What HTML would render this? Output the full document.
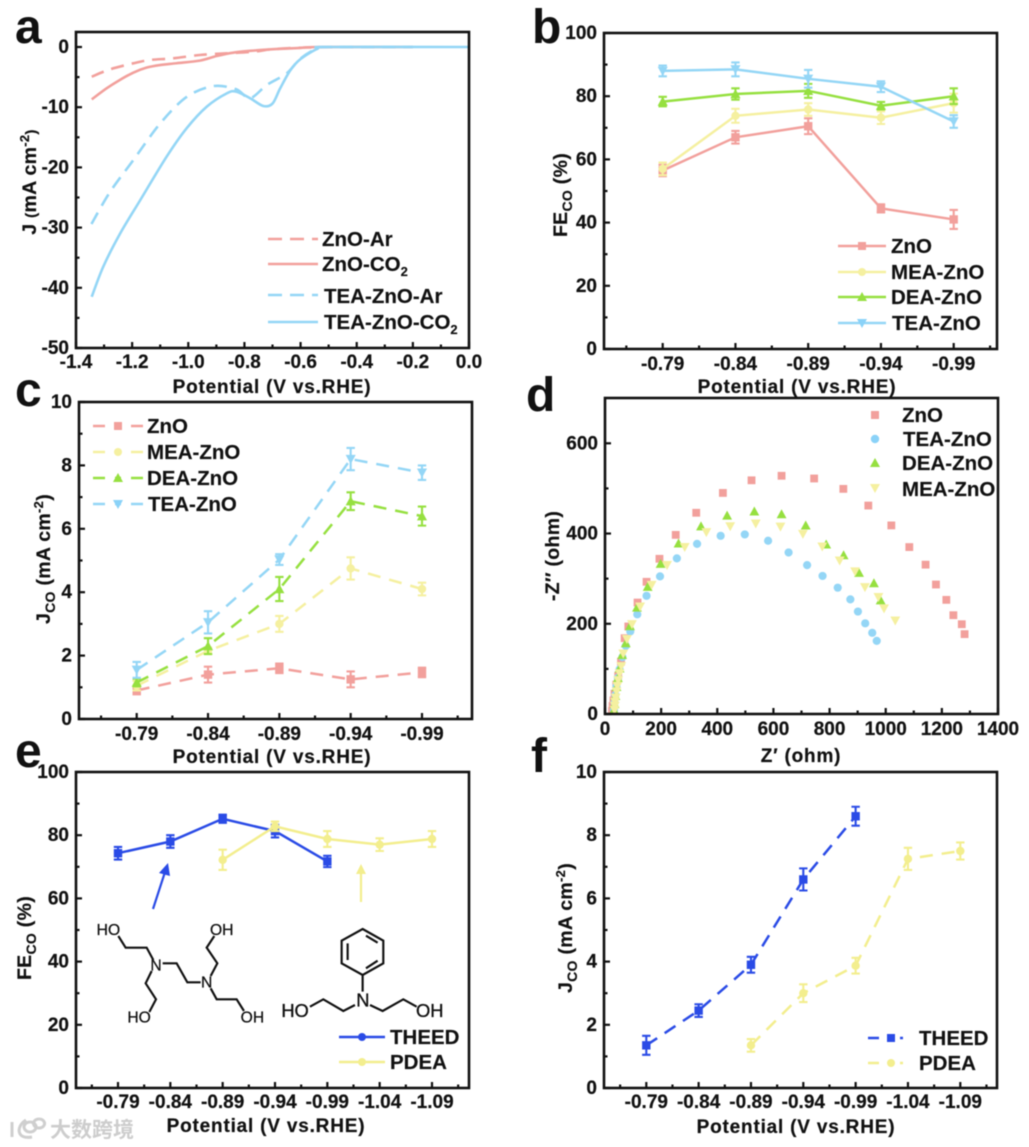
<!DOCTYPE html>
<html lang="en">
<head>
<meta charset="utf-8">
<title>ZnO electrocatalysis figure panels a to f</title>
<style>
html,body{margin:0;padding:0;background:#fff;}
body{width:1029px;height:1147px;overflow:hidden;}
svg{display:block;filter:blur(0.45px);}
text{font-family:"Liberation Sans","Noto Sans CJK SC",sans-serif;fill:#111;}
.letter{font-size:48px;font-weight:bold;}
.title{font-size:19px;font-weight:bold;letter-spacing:.8px;stroke:#111;stroke-width:.2px;}
.ytitle{font-size:19.5px;font-weight:bold;letter-spacing:.3px;stroke:#111;stroke-width:.2px;}
.legend{font-size:20.5px;font-weight:bold;stroke:#111;stroke-width:.15px;}
.tick{font-size:19px;font-weight:bold;stroke:#111;stroke-width:.2px;}
.mol{stroke:#111;fill:none;stroke-width:6.5;}
.moltext{font-size:47px;stroke:#111;stroke-width:.8px;}
.moltext2{font-size:55px;stroke:#111;stroke-width:1px;}
</style>
</head>
<body>
<svg id="figure" xmlns="http://www.w3.org/2000/svg" width="1029" height="1147" viewBox="0 0 1029 1147">
<rect width="1029" height="1147" fill="#fff"/>

<g id="plot-a"></g>
<g id="plot-b"></g>
<g id="plot-c"></g>
<g id="plot-d"></g>
<g id="plot-e"></g>
<g id="plot-f"></g>

<!-- panel letters -->
<text class="letter" x="15" y="43">a</text>
<text class="letter" x="532" y="43">b</text>
<text class="letter" x="15" y="406">c</text>
<text class="letter" x="526" y="411">d</text>
<text class="letter" x="15" y="767">e</text>
<text class="letter" x="531" y="772">f</text>

<!-- x axis titles -->
<text class="title" x="272" y="393" text-anchor="middle">Potential (V vs.RHE)</text>
<text class="title" x="797" y="393" text-anchor="middle">Potential (V vs.RHE)</text>
<text class="title" x="272" y="763" text-anchor="middle">Potential (V vs.RHE)</text>
<text class="title" x="801" y="762" text-anchor="middle">Z′ (ohm)</text>
<text class="title" x="266" y="1132" text-anchor="middle">Potential (V vs.RHE)</text>
<text class="title" x="796" y="1133" text-anchor="middle">Potential (V vs.RHE)</text>

<!-- y axis titles -->
<text class="ytitle" text-anchor="middle" transform="translate(36,182) rotate(-90)">J <tspan font-size="15">(</tspan>mA cm<tspan font-size="13" dy="-7">-2</tspan><tspan font-size="15" dy="7">)</tspan></text>
<text class="ytitle" text-anchor="middle" transform="translate(567,195) rotate(-90)">FE<tspan font-size="14" dy="5">CO</tspan><tspan dy="-5"> (%)</tspan></text>
<text class="ytitle" text-anchor="middle" transform="translate(50,559) rotate(-90)">J<tspan font-size="14" dy="5">CO</tspan><tspan dy="-5"> (mA cm</tspan><tspan font-size="13" dy="-7">-2</tspan><tspan dy="7">)</tspan></text>
<text class="ytitle" text-anchor="middle" transform="translate(559,556) rotate(-90)">-Z′′ (ohm)</text>
<text class="ytitle" text-anchor="middle" transform="translate(31,938) rotate(-90)">FE<tspan font-size="14" dy="5">CO</tspan><tspan dy="-5"> (%)</tspan></text>
<text class="ytitle" text-anchor="middle" transform="translate(572,928) rotate(-90)">J<tspan font-size="14" dy="5">CO</tspan><tspan dy="-5"> (mA cm</tspan><tspan font-size="13" dy="-7">-2</tspan><tspan dy="7">)</tspan></text>

<!-- legend a -->
<g>
<line x1="268" x2="318" y1="239" y2="239" stroke="#F2A09C" stroke-width="2.4" stroke-dasharray="14 8"/>
<text class="legend" x="322" y="246">ZnO-Ar</text>
<line x1="268" x2="318" y1="264" y2="264" stroke="#F2A09C" stroke-width="2.4"/>
<text class="legend" x="322" y="271">ZnO-CO<tspan font-size="13" dy="5">2</tspan></text>
<line x1="268" x2="318" y1="295" y2="295" stroke="#94D6F6" stroke-width="2.4" stroke-dasharray="14 8"/>
<text class="legend" x="324" y="303">TEA-ZnO-Ar</text>
<line x1="268" x2="318" y1="322" y2="322" stroke="#94D6F6" stroke-width="2.4"/>
<text class="legend" x="324" y="329">TEA-ZnO-CO<tspan font-size="13" dy="5">2</tspan></text>
</g>

<!-- legend b -->
<g>
<line x1="838" x2="886" y1="246" y2="246" stroke="#F2A09C" stroke-width="2.4"/>
<rect x="858" y="242" width="8" height="8" fill="#F2A09C"/>
<text class="legend" x="891" y="253">ZnO</text>
<line x1="838" x2="886" y1="272" y2="272" stroke="#F5F0A0" stroke-width="2.4"/>
<circle cx="862" cy="272" r="4" fill="#F5F0A0"/>
<text class="legend" x="891" y="279">MEA-ZnO</text>
<line x1="838" x2="886" y1="297" y2="297" stroke="#96E040" stroke-width="2.4"/>
<polygon points="862,292 867,301 857,301" fill="#96E040"/>
<text class="legend" x="891" y="304">DEA-ZnO</text>
<line x1="838" x2="886" y1="323" y2="323" stroke="#94D6F6" stroke-width="2.4"/>
<polygon points="862,328 867,319 857,319" fill="#8AD2F8"/>
<text class="legend" x="892" y="330">TEA-ZnO</text>
</g>

<!-- legend c -->
<g>
<line x1="93" x2="143" y1="426" y2="426" stroke="#F2A09C" stroke-width="2.4" stroke-dasharray="12 10 6 10 12"/>
<rect x="114" y="422" width="8" height="8" fill="#F2A09C"/>
<text class="legend" x="147" y="433">ZnO</text>
<line x1="93" x2="143" y1="452" y2="452" stroke="#F5F0A0" stroke-width="2.4" stroke-dasharray="12 10 6 10 12"/>
<circle cx="118" cy="452" r="4" fill="#F5F0A0"/>
<text class="legend" x="147" y="459">MEA-ZnO</text>
<line x1="93" x2="143" y1="478" y2="478" stroke="#96E040" stroke-width="2.4" stroke-dasharray="12 10 6 10 12"/>
<polygon points="118,473 123,482 113,482" fill="#96E040"/>
<text class="legend" x="147" y="485">DEA-ZnO</text>
<line x1="93" x2="143" y1="504" y2="504" stroke="#94D6F6" stroke-width="2.4" stroke-dasharray="12 10 6 10 12"/>
<polygon points="118,509 123,500 113,500" fill="#8AD2F8"/>
<text class="legend" x="148" y="511">TEA-ZnO</text>
</g>

<!-- legend d -->
<g>
<rect x="871" y="411" width="8" height="8" fill="#F2A09C"/>
<text class="legend" x="902" y="422">ZnO</text>
<circle cx="875" cy="439" r="4.2" fill="#8AD2F8"/>
<text class="legend" x="903" y="446">TEA-ZnO</text>
<polygon points="875,458 880,467 870,467" fill="#96E040"/>
<text class="legend" x="902" y="470">DEA-ZnO</text>
<polygon points="875,493 880,484 870,484" fill="#F5F0A0"/>
<text class="legend" x="902" y="496">MEA-ZnO</text>
</g>

<!-- legend e -->
<g>
<line x1="339" x2="385" y1="1037" y2="1037" stroke="#2A4BE6" stroke-width="2.4"/>
<circle cx="362" cy="1037" r="4" fill="#2A4BE6"/>
<text class="legend" x="390" y="1044">THEED</text>
<line x1="339" x2="385" y1="1062" y2="1062" stroke="#F3EE8E" stroke-width="2.4"/>
<circle cx="362" cy="1062" r="4" fill="#F3EE8E"/>
<text class="legend" x="390" y="1069">PDEA</text>
</g>

<!-- legend f -->
<g>
<line x1="868" x2="914" y1="1038" y2="1038" stroke="#2A4BE6" stroke-width="2.4" stroke-dasharray="11 9 4 8 3"/>
<rect x="887" y="1034" width="8" height="8" fill="#2A4BE6"/>
<text class="legend" x="919" y="1045">THEED</text>
<line x1="868" x2="914" y1="1063" y2="1063" stroke="#F3EE8E" stroke-width="2.4" stroke-dasharray="11 9 4 8 3"/>
<circle cx="891" cy="1063" r="4" fill="#F3EE8E"/>
<text class="legend" x="919" y="1070">PDEA</text>
</g>

<!-- arrows in panel e -->
<g>
<line x1="153" y1="909" x2="165" y2="872" stroke="#2A4BE6" stroke-width="2.2"/>
<polygon points="168,863 170,876 159,873" fill="#2A4BE6"/>
</g>
<g>
<line x1="361" y1="902" x2="361" y2="872" stroke="#F3EE8E" stroke-width="2.2"/>
<polygon points="361,864 366,874 356,874" fill="#F3EE8E"/>
</g>

<!-- molecules -->
<g transform="translate(80,900) scale(0.3333)">
<path class="mol" d="M115 108 L137 143 L200 143 L220 180 M248 190 L290 190 L322 247 L362 247 M392 228 L412 190 L380 143 L403 108 M392 265 L410 298 L470 298 L492 333 M215 213 L197 250 L228 298 L208 336"/>
<text class="moltext" x="50" y="105">HO</text>
<text class="moltext" x="390" y="105">OH</text>
<text class="moltext" x="211" y="211">N</text>
<text class="moltext" x="363" y="263">N</text>
<text class="moltext" x="142" y="368">HO</text>
<text class="moltext" x="482" y="368">OH</text>
</g>
<g transform="translate(80,900) scale(0.3333)">
<path class="mol" d="M848 87 L910 122 L910 190 L848 225 L785 190 L785 122 Z M803 130 L803 180 M858 107 L893 128 M893 182 L858 205 M848 225 L848 275 M825 315 L790 333 L730 298 L690 320 M870 315 L908 333 L970 298 L1010 320"/>
<text class="moltext2" x="604" y="351">HO</text>
<text class="moltext2" x="829" y="319">N</text>
<text class="moltext2" x="1008" y="351">OH</text>
</g>

<!-- watermark -->
<g>
<path d="M12 1122 L12 1137 M26 1120 C16 1126 16 1140 32 1137 M30 1122 a6 5 0 1 0 0.1 0 M39 1119 a5.5 4.5 0 1 0 0.1 0" fill="none" stroke="#cfcfcf" stroke-width="3"/>
<text x="50" y="1137" font-size="21" style="fill:#cdcdcd;font-weight:bold;">大数跨境</text>
</g>
</svg>

<script>
/* ---------- Panel a data: potential (V) and current density (mA cm-2) ---------- */
const aXTicks = [-1.4, -1.2, -1.0, -0.8, -0.6, -0.4, -0.2, 0.0];
const aYTicks = [0, -10, -20, -30, -40, -50];
const aZnoArV = [-1.344, -1.279, -1.196, -1.137, -1.054, -0.959, -0.864, -0.768, -0.69, -0.54, -0.2];
const aZnoArJ = [-4.93, -3.71, -2.71, -2.16, -1.88, -1.33, -1.05, -0.78, -0.33, -0.05, 0];
const aZnoCo2V = [-1.344, -1.291, -1.244, -1.196, -1.149, -1.101, -1.042, -0.959, -0.899, -0.84, -0.768, -0.69, -0.6, -0.54, -0.2];
const aZnoCo2J = [-8.7, -6.87, -5.48, -4.26, -3.43, -3, -2.7, -2.26, -1.5, -0.94, -0.6, -0.35, -0.15, 0, 0];
const aTeaArV = [-1.345, -1.279, -1.196, -1.1, -1.006, -0.912, -0.83, -0.78, -0.72, -0.65, -0.6, -0.54, -0.5, -0.2];
const aTeaArJ = [-29.4, -24.1, -18.8, -12.7, -8.3, -6.5, -7, -8.5, -6.3, -4.4, -1.9, -0.2, 0, 0];
const aTeaCo2V = [-1.344, -1.303, -1.243, -1.172, -1.077, -1.006, -0.934, -0.863, -0.83, -0.78, -0.733, -0.7, -0.673, -0.637, -0.6, -0.54, -0.5, 0];
const aTeaCo2J = [-41.5, -36.5, -31, -25.5, -18.2, -13.5, -9.9, -7.7, -7.4, -8.5, -9.8, -9.4, -6.9, -3.9, -2, -0.3, 0, 0];

/* ---------- Panel b data ---------- */
const bCategories = ['-0.79', '-0.84', '-0.89', '-0.94', '-0.99'];
const bYTicks = [0, 20, 40, 60, 80, 100];
const bZno = [56.5, 67, 70.5, 44.5, 41];
const bZnoErr = [1.8, 2, 2.5, 1.3, 3];
const bMea = [57, 73.8, 75.8, 73.2, 77.8];
const bMeaErr = [2, 2.2, 2, 2, 3];
const bDea = [78.3, 80.7, 81.7, 77, 80];
const bDeaErr = [1.5, 1.8, 2.2, 1.2, 2.5];
const bTea = [88, 88.5, 85.5, 83, 72];
const bTeaErr = [1.7, 2.2, 2.8, 1.7, 2];

/* ---------- Panel c data ---------- */
const cCategories = ['-0.79', '-0.84', '-0.89', '-0.94', '-0.99'];
const cYTicks = [0, 2, 4, 6, 8, 10];
const cZno = [0.9, 1.4, 1.6, 1.25, 1.47];
const cZnoErr = [0.12, 0.25, 0.15, 0.25, 0.15];
const cMea = [1.05, 2.15, 3.0, 4.75, 4.1];
const cMeaErr = [0.15, 0.1, 0.25, 0.35, 0.2];
const cDea = [1.15, 2.3, 4.1, 6.87, 6.4];
const cDeaErr = [0.12, 0.25, 0.38, 0.28, 0.3];
const cTea = [1.55, 3.05, 5.03, 8.2, 7.77];
const cTeaErr = [0.25, 0.35, 0.17, 0.35, 0.23];

/* ---------- Panel d data: Nyquist scatter ---------- */
const dXTicks = [0, 200, 400, 600, 800, 1000, 1200, 1400];
const dYTicks = [0, 200, 400, 600];
const dZnoRe = [1281, 1271, 1241, 1216, 1179, 1142, 1084, 1020, 938, 849, 745, 629, 522, 420, 325, 252, 194, 148, 116, 83, 70, 57, 47, 40, 34, 30, 27, 25];
const dZnoIm = [177, 199, 219, 253, 287, 331, 370, 418, 462, 499, 522, 528, 518, 490, 446, 397, 344, 293, 247, 194, 168, 116, 85, 65, 45, 30, 18, 7];
const dTeaRe = [968, 952, 927, 901, 874, 829, 775, 720, 654, 581, 498, 412, 328, 256, 196, 148, 115, 90, 74, 62, 52, 46, 41, 37, 34, 32];
const dTeaIm = [162, 180, 201, 227, 254, 280, 306, 330, 358, 384, 398, 395, 377, 345, 305, 262, 221, 183, 151, 126, 99, 80, 62, 42, 25, 9];
const dDeaRe = [982, 958, 905, 850, 788, 715, 629, 532, 435, 342, 262, 198, 152, 114, 89, 74, 61, 52, 46, 41, 37, 34, 32];
const dDeaIm = [252, 290, 313, 352, 376, 418, 443, 449, 440, 416, 378, 333, 282, 236, 195, 157, 131, 101, 80, 60, 40, 22, 9];
const dMeaRe = [1034, 994, 974, 926, 891, 836, 774, 705, 625, 537, 446, 361, 284, 221, 166, 125, 96, 78, 65, 58, 52, 47, 44, 41, 38, 36, 35, 34];
const dMeaIm = [207, 234, 259, 281, 316, 340, 371, 399, 415, 422, 416, 403, 370, 330, 286, 238, 199, 166, 134, 106, 90, 75, 62, 50, 36, 27, 18, 9];

/* ---------- Panel e data ---------- */
const eCategories = ['-0.79', '-0.84', '-0.89', '-0.94', '-0.99', '-1.04', '-1.09'];
const eYTicks = [0, 20, 40, 60, 80, 100];
const eTheedIdx = [0, 1, 2, 3, 4];
const eTheed = [74.3, 78, 85.2, 81.3, 71.7];
const eTheedErr = [2, 2, 1.3, 2, 1.8];
const ePdeaIdx = [2, 3, 4, 5, 6];
const ePdea = [72.2, 82.8, 78.8, 77, 78.8];
const ePdeaErr = [3.2, 1.5, 2.5, 2, 2.5];

/* ---------- Panel f data ---------- */
const fCategories = ['-0.79', '-0.84', '-0.89', '-0.94', '-0.99', '-1.04', '-1.09'];
const fYTicks = [0, 2, 4, 6, 8, 10];
const fTheedIdx = [0, 1, 2, 3, 4];
const fTheed = [1.35, 2.45, 3.9, 6.6, 8.6];
const fTheedErr = [0.3, 0.2, 0.25, 0.35, 0.3];
const fPdeaIdx = [2, 3, 4, 5, 6];
const fPdea = [1.35, 3.0, 3.87, 7.25, 7.5];
const fPdeaErr = [0.2, 0.28, 0.25, 0.35, 0.27];

/* ---------- Colours ---------- */
const PINK = '#F2A09C', YEL = '#F5F0A0', GRN = '#96E040', SKY = '#94D6F6', BLUE = '#2A4BE6', PDY = '#F3EE8E';

const NS = 'http://www.w3.org/2000/svg';
function mk(parent, tag, attrs) {
  const el = document.createElementNS(NS, tag);
  for (const k in attrs) { el.setAttribute(k, attrs[k]); }
  parent.appendChild(el);
  return el;
}
function linear(d0, d1, r0, r1) {
  return function (v) { return r0 + (v - d0) / (d1 - d0) * (r1 - r0); };
}

/* draw ticks, tick labels and the frame from tick value arrays */
function drawAxes(root, f, xScale, xVals, xLabels, xMinor, yScale, yVals, yMinor, xLabelDy) {
  xVals.forEach(function (v, i) {
    const px = xScale(v);
    const t = mk(root, 'line', { x1: px, x2: px, y1: f.b, y2: f.b - 6, stroke: '#111', 'stroke-width': 2.2 });
    
    
    const lab = mk(root, 'text', { x: px, y: f.b + xLabelDy, 'text-anchor': 'middle', class: 'tick' });
    
    
    lab.textContent = xLabels[i];
  });
  xMinor.forEach(function (v) {
    const px = xScale(v);
    const t = mk(root, 'line', { x1: px, x2: px, y1: f.b, y2: f.b - 3.5, stroke: '#111', 'stroke-width': 2.2 });
    
    
  });
  yVals.forEach(function (v) {
    const py = yScale(v);
    const t = mk(root, 'line', { x1: f.l, x2: f.l + 6, y1: py, y2: py, stroke: '#111', 'stroke-width': 2.2 });
    
    
    const lab = mk(root, 'text', { x: f.l - 7, y: py + 6, 'text-anchor': 'end', class: 'tick' });
    
    
    lab.textContent = String(v);
  });
  yMinor.forEach(function (v) {
    const py = yScale(v);
    const t = mk(root, 'line', { x1: f.l, x2: f.l + 3.5, y1: py, y2: py, stroke: '#111', 'stroke-width': 2.2 });
    
    
  });
  const fr = mk(root, 'rect', { x: f.l, y: f.t, width: f.r - f.l, height: f.b - f.t, fill: 'none', stroke: '#111', 'stroke-width': 2.6 });
  
  
}

function marker(root, kind, px, py, s, color) {
  let el;
  if (kind === 'square') {
    el = mk(root, 'rect', { x: px - s, y: py - s, width: 2 * s, height: 2 * s, fill: color });
  } else if (kind === 'circle') {
    el = mk(root, 'circle', { cx: px, cy: py, r: s, fill: color });
  } else if (kind === 'up') {
    el = mk(root, 'polygon', { points: [px, py - s * 1.2, px + s * 1.2, py + s, px - s * 1.2, py + s].join(' '), fill: color });
  } else {
    el = mk(root, 'polygon', { points: [px, py + s * 1.2, px + s * 1.2, py - s, px - s * 1.2, py - s].join(' '), fill: color });
  }
  
  
  return el;
}

/* category series with error bars */
function drawSeries(root, name, xScale, yScale, idx, vals, errs, color, kind, dash) {
  const g = mk(root, 'g', {});
  
  
  const pts = vals.map(function (v, i) { return xScale(idx[i]) + ',' + yScale(v); }).join(' ');
  const attrs = { points: pts, fill: 'none', stroke: color, 'stroke-width': 2.5 };
  if (dash) { attrs['stroke-dasharray'] = dash; }
  const line = mk(g, 'polyline', attrs);
  
  
  vals.forEach(function (v, i) {
    const px = xScale(idx[i]);
    const hi = yScale(v + errs[i]);
    const lo = yScale(v - errs[i]);
    const bar = mk(g, 'path', {
      d: 'M' + px + ' ' + hi + 'V' + lo + 'M' + (px - 4.2) + ' ' + hi + 'H' + (px + 4.2) + 'M' + (px - 4.2) + ' ' + lo + 'H' + (px + 4.2),
      stroke: color, 'stroke-width': 2.1, fill: 'none'
    });
    
    
    marker(g, kind, px, yScale(v), 4.2, color);
  });
}

/* smooth curve through data points */
function drawCurve(root, name, xScale, yScale, xs, ys, color, dash) {
  const P = xs.map(function (v, i) { return [xScale(v), yScale(ys[i])]; });
  let d = 'M' + P[0][0] + ' ' + P[0][1];
  for (let i = 0; i < P.length - 1; i++) {
    const p0 = P[Math.max(i - 1, 0)], p1 = P[i], p2 = P[i + 1], p3 = P[Math.min(i + 2, P.length - 1)];
    const k = 0.16;
    d += 'C' + (p1[0] + (p2[0] - p0[0]) * k) + ' ' + (p1[1] + (p2[1] - p0[1]) * k) + ' ' +
      (p2[0] - (p3[0] - p1[0]) * k) + ' ' + (p2[1] - (p3[1] - p1[1]) * k) + ' ' + p2[0] + ' ' + p2[1];
  }
  const attrs = { d: d, fill: 'none', stroke: color, 'stroke-width': 2.6 };
  if (dash) { attrs['stroke-dasharray'] = dash; }
  const el = mk(root, 'path', attrs);
  
  
}

function drawScatter(root, name, xScale, yScale, xs, ys, kind, s, color) {
  const g = mk(root, 'g', {});
  
  
  xs.forEach(function (v, i) { marker(g, kind, xScale(v), yScale(ys[i]), s, color); });
}

function indices(arr) { return arr.map(function (_, i) { return i; }); }
function halves(n) { const o = []; for (let i = -0.5; i < n; i += 1) { o.push(i); } return o; }

/* Panel a */
(function () {
  const root = document.getElementById('plot-a');
  const f = { l: 76, r: 469, t: 32, b: 348 };
  const x = linear(-1.4, 0, 76, 469);
  const y = linear(0, -50, 47, 348);
  drawCurve(root, 'zno-ar', x, y, aZnoArV, aZnoArJ, PINK, '13 8');
  drawCurve(root, 'zno-co2', x, y, aZnoCo2V, aZnoCo2J, PINK);
  drawCurve(root, 'tea-zno-ar', x, y, aTeaArV, aTeaArJ, SKY, '13 8');
  drawCurve(root, 'tea-zno-co2', x, y, aTeaCo2V, aTeaCo2J, SKY);
  const xm = aXTicks.slice(1).map(function (v) { return v - 0.1; });
  const ym = aYTicks.slice(1).map(function (v) { return v + 5; });
  drawAxes(root, f, x, aXTicks, aXTicks.map(function (v) { return v.toFixed(1); }), xm, y, aYTicks, ym, 20);
})();

/* Panel b */
(function () {
  const root = document.getElementById('plot-b');
  const f = { l: 604, r: 997, t: 33, b: 349 };
  const x = linear(0, 4, 662.7, 953.7);
  const y = linear(0, 100, 349, 33);
  const id = indices(bCategories);
  drawSeries(root, 'zno', x, y, id, bZno, bZnoErr, PINK, 'square');
  drawSeries(root, 'mea-zno', x, y, id, bMea, bMeaErr, YEL, 'circle');
  drawSeries(root, 'dea-zno', x, y, id, bDea, bDeaErr, GRN, 'up');
  drawSeries(root, 'tea-zno', x, y, id, bTea, bTeaErr, SKY, 'down');
  const ym = bYTicks.slice(1).map(function (v) { return v - 10; });
  drawAxes(root, f, x, id, bCategories, halves(5), y, bYTicks, ym, 21);
})();

/* Panel c */
(function () {
  const root = document.getElementById('plot-c');
  const f = { l: 79, r: 472, t: 402, b: 719 };
  const x = linear(0, 4, 136.7, 422);
  const y = linear(0, 10, 719, 402);
  const id = indices(cCategories);
  const dash = '13 9';
  drawSeries(root, 'zno', x, y, id, cZno, cZnoErr, PINK, 'square', dash);
  drawSeries(root, 'mea-zno', x, y, id, cMea, cMeaErr, YEL, 'circle', dash);
  drawSeries(root, 'dea-zno', x, y, id, cDea, cDeaErr, GRN, 'up', dash);
  drawSeries(root, 'tea-zno', x, y, id, cTea, cTeaErr, SKY, 'down', dash);
  const ym = cYTicks.slice(1).map(function (v) { return v - 1; });
  drawAxes(root, f, x, id, cCategories, halves(5), y, cYTicks, ym, 21);
})();

/* Panel d */
(function () {
  const root = document.getElementById('plot-d');
  const f = { l: 605, r: 998, t: 398, b: 714 };
  const x = linear(0, 1400, 605, 998);
  const y = linear(0, 600, 714, 443.3);
  drawScatter(root, 'zno', x, y, dZnoRe, dZnoIm, 'square', 3.9, PINK);
  drawScatter(root, 'tea-zno', x, y, dTeaRe, dTeaIm, 'circle', 4.1, SKY);
  drawScatter(root, 'dea-zno', x, y, dDeaRe, dDeaIm, 'up', 4.1, GRN);
  drawScatter(root, 'mea-zno', x, y, dMeaRe, dMeaIm, 'down', 4.1, YEL);
  const xm = dXTicks.slice(1).map(function (v) { return v - 100; });
  const ym = dYTicks.slice(1).map(function (v) { return v - 100; });
  drawAxes(root, f, x, dXTicks, dXTicks.map(String), xm, y, dYTicks, ym, 21);
})();

/* Panel e */
(function () {
  const root = document.getElementById('plot-e');
  const f = { l: 76, r: 469, t: 772, b: 1088 };
  const x = linear(0, 6, 118, 432);
  const y = linear(0, 100, 1088, 772);
  const id = indices(eCategories);
  drawSeries(root, 'theed', x, y, eTheedIdx, eTheed, eTheedErr, BLUE, 'square');
  drawSeries(root, 'pdea', x, y, ePdeaIdx, ePdea, ePdeaErr, PDY, 'circle');
  const ym = eYTicks.slice(1).map(function (v) { return v - 10; });
  drawAxes(root, f, x, id, eCategories, halves(7), y, eYTicks, ym, 20);
})();

/* Panel f */
(function () {
  const root = document.getElementById('plot-f');
  const f = { l: 604, r: 997, t: 772, b: 1088 };
  const x = linear(0, 6, 646.3, 960.3);
  const y = linear(0, 10, 1088, 772);
  const id = indices(fCategories);
  const dash = '13 9';
  drawSeries(root, 'theed', x, y, fTheedIdx, fTheed, fTheedErr, BLUE, 'square', dash);
  drawSeries(root, 'pdea', x, y, fPdeaIdx, fPdea, fPdeaErr, PDY, 'circle', dash);
  const ym = fYTicks.slice(1).map(function (v) { return v - 1; });
  drawAxes(root, f, x, id, fCategories, halves(7), y, fYTicks, ym, 20);
})();
</script>
</body>
</html>
